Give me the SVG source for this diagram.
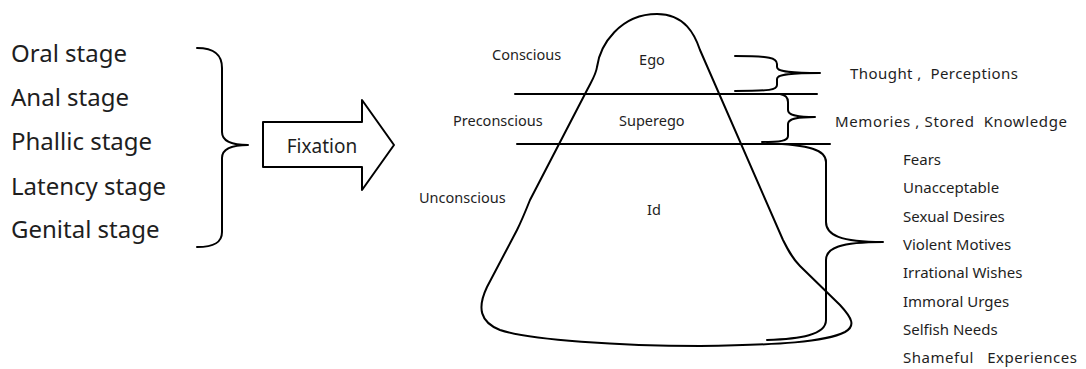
<svg xmlns="http://www.w3.org/2000/svg" width="1086" height="369" viewBox="0 0 1086 369">
<style>
text{font-family:"Noto Sans","Liberation Sans",sans-serif;fill:#1e1e1e;white-space:pre}
.stage{font-size:24px}
.lbl{font-size:14.5px}
.note{font-size:15px}
.ln{fill:none;stroke:#000;stroke-width:2;stroke-linecap:round;stroke-linejoin:round}
</style>
<rect width="1086" height="369" fill="#fff"/>
<g id="stages">
<text class="stage" x="11" y="62">Oral stage</text>
<text class="stage" x="11" y="106">Anal stage</text>
<text class="stage" x="11" y="150">Phallic stage</text>
<text class="stage" x="11" y="195">Latency stage</text>
<text class="stage" x="11" y="238">Genital stage</text>
</g>
<g id="fixation">
<path class="ln" d="M263,122 L362,122 L362,100 L394,145 L362,190 L362,167 L263,167 Z" fill="#fff"/>
<text x="322" y="153" font-size="19" text-anchor="middle">Fixation</text>
</g>
<g id="mountain">
<path class="ln" d="M597,67 C600,45 620,14 657,14 C685,14 695,35 700,50 L783,240 C788,250 792,258 800,266 L840,305 C852,318 856,326 845,332 C825,342 780,345 700,346 C620,346 530,340 500,330 C480,322 477,308 487,287 L517,230 C522,220 526,210 530,200 L585,94 C592,80 596,75 597,67 Z"/>
</g>
<g id="levels">
<line class="ln" x1="515" y1="94" x2="817" y2="94"/>
<line class="ln" x1="517" y1="144" x2="830" y2="144"/>
<text class="lbl" x="492" y="60">Conscious</text>
<text class="lbl" x="453" y="126">Preconscious</text>
<text class="lbl" x="419" y="203">Unconscious</text>
<text class="lbl" x="652" y="65" text-anchor="middle">Ego</text>
<text class="lbl" x="619" y="126">Superego</text>
<text class="lbl" x="647" y="215">Id</text>
</g>
<g id="connectors">
<path class="ln" d="M197,48 C215,48 222,55 222,68 L222,132 C222,140 230,145 248,145 C230,145 222,150 222,158 L222,232 C222,242 215,247 197,247"/>
<path class="ln" d="M735,56 C770,56 777,58 777,64 L777,67 C777,71 785,73 820,73 C785,73 777,75 777,79 L777,85 C777,90 770,91 735,91"/>
<path class="ln" d="M780,94 C786,95 788,98 788,102 L788,110 C788,115 795,117 815,117 C795,117 788,119 788,124 L788,136 C788,141 780,142 762,142"/>
<path class="ln" d="M767,143 C810,145 826,150 826,162 L826,222 C826,235 840,242 883,242 C840,242 826,248 826,260 L826,320 C826,335 800,339 767,340"/>
</g>
<g id="notes">
<text class="note" x="850" y="79" textLength="168">Thought ,  Perceptions</text>
<text class="note" x="835" y="127" textLength="232">Memories , Stored  Knowledge</text>
<text class="note" x="903" y="165">Fears</text>
<text class="note" x="903" y="193">Unacceptable</text>
<text class="note" x="903" y="222">Sexual Desires</text>
<text class="note" x="903" y="250">Violent Motives</text>
<text class="note" x="903" y="278">Irrational Wishes</text>
<text class="note" x="903" y="307">Immoral Urges</text>
<text class="note" x="903" y="335">Selfish Needs</text>
<text class="note" x="903" y="363" textLength="174">Shameful   Experiences</text>
</g>
</svg>
